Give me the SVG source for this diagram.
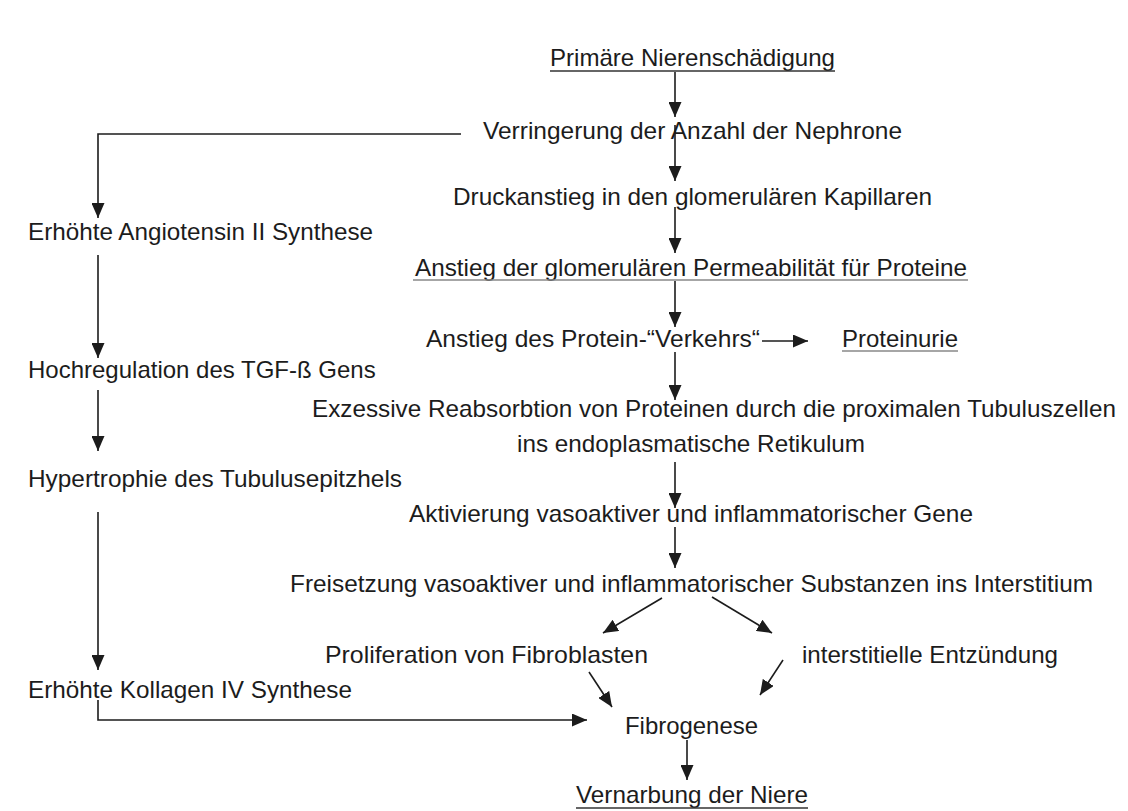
<svg xmlns="http://www.w3.org/2000/svg" width="1128" height="811" viewBox="0 0 1128 811">
<style>
text{font-family:"Liberation Sans",Arial,Helvetica,sans-serif;font-size:24px;fill:#1c1c1c}
.ln{stroke:#1c1c1c;stroke-width:1.6;fill:none}
.ul{stroke:#333;stroke-width:1.3}
.ul2{stroke:#888;stroke-width:1.3}
</style>
<defs>
<marker id="ah" markerUnits="userSpaceOnUse" markerWidth="15" markerHeight="13" viewBox="0 0 15 13" refX="15" refY="6.5" orient="auto">
<path d="M0,0 L15,6.5 L0,13 z" fill="#1c1c1c"/>
</marker>
</defs>
<rect width="1128" height="811" fill="#ffffff"/>

<g id="connectors">
<line class="ln" x1="675" y1="72" x2="675" y2="117" marker-end="url(#ah)"/>
<line class="ln" x1="675" y1="125" x2="675" y2="181" marker-end="url(#ah)"/>
<line class="ln" x1="675" y1="207" x2="675" y2="253" marker-end="url(#ah)"/>
<line class="ln" x1="675" y1="281" x2="675" y2="327" marker-end="url(#ah)"/>
<line class="ln" x1="675" y1="352" x2="675" y2="400" marker-end="url(#ah)"/>
<line class="ln" x1="675" y1="462" x2="675" y2="508" marker-end="url(#ah)"/>
<line class="ln" x1="675" y1="527" x2="675" y2="568" marker-end="url(#ah)"/>
<line class="ln" x1="762" y1="341" x2="808" y2="341" marker-end="url(#ah)"/>
<polyline class="ln" points="461,134 98,134 98,218" marker-end="url(#ah)"/>
<line class="ln" x1="98" y1="255" x2="98" y2="358" marker-end="url(#ah)"/>
<line class="ln" x1="98" y1="390" x2="98" y2="451" marker-end="url(#ah)"/>
<line class="ln" x1="98" y1="512" x2="98" y2="670" marker-end="url(#ah)"/>
<polyline class="ln" points="98,700 98,720 587,720" marker-end="url(#ah)"/>
<line class="ln" x1="662" y1="598" x2="603" y2="633" marker-end="url(#ah)"/>
<line class="ln" x1="712" y1="597" x2="772" y2="633" marker-end="url(#ah)"/>
<line class="ln" x1="589" y1="672" x2="612" y2="707" marker-end="url(#ah)"/>
<line class="ln" x1="783" y1="660" x2="760" y2="695" marker-end="url(#ah)"/>
<line class="ln" x1="687" y1="740" x2="687" y2="780" marker-end="url(#ah)"/>
</g>

<g id="n-primaer"><text x="550" y="66" textLength="285" lengthAdjust="spacingAndGlyphs">Primäre Nierenschädigung</text><line class="ul" x1="550" y1="71" x2="835" y2="71"/></g>
<g id="n-verringerung"><text x="483" y="139" textLength="419" lengthAdjust="spacingAndGlyphs">Verringerung der Anzahl der Nephrone</text></g>
<g id="n-druckanstieg"><text x="453" y="205" textLength="479" lengthAdjust="spacingAndGlyphs">Druckanstieg in den glomerulären Kapillaren</text></g>
<g id="n-permeabilitaet"><text x="415" y="276" textLength="552" lengthAdjust="spacingAndGlyphs">Anstieg der glomerulären Permeabilität für Proteine</text><line class="ul2" x1="413" y1="280" x2="968" y2="280"/></g>
<g id="n-verkehr"><text x="426" y="347" textLength="334" lengthAdjust="spacingAndGlyphs">Anstieg des Protein-“Verkehrs“</text></g>
<g id="n-proteinurie"><text x="842" y="347" textLength="116" lengthAdjust="spacingAndGlyphs">Proteinurie</text><line class="ul2" x1="842" y1="351" x2="958" y2="351"/></g>
<g id="n-exzessive"><text x="312" y="417" textLength="804" lengthAdjust="spacingAndGlyphs">Exzessive Reabsorbtion von Proteinen durch die proximalen Tubuluszellen</text>
<text x="517" y="452" textLength="348" lengthAdjust="spacingAndGlyphs">ins endoplasmatische Retikulum</text></g>
<g id="n-aktivierung"><text x="409" y="522" textLength="564" lengthAdjust="spacingAndGlyphs">Aktivierung vasoaktiver und inflammatorischer Gene</text></g>
<g id="n-freisetzung"><text x="290" y="592" textLength="803" lengthAdjust="spacingAndGlyphs">Freisetzung vasoaktiver und inflammatorischer Substanzen ins Interstitium</text></g>
<g id="n-proliferation"><text x="325" y="663" textLength="323" lengthAdjust="spacingAndGlyphs">Proliferation von Fibroblasten</text></g>
<g id="n-entzuendung"><text x="802" y="663" textLength="256" lengthAdjust="spacingAndGlyphs">interstitielle Entzündung</text></g>
<g id="n-fibrogenese"><text x="625" y="734" textLength="133" lengthAdjust="spacingAndGlyphs">Fibrogenese</text></g>
<g id="n-vernarbung"><text x="576" y="803" textLength="232" lengthAdjust="spacingAndGlyphs">Vernarbung der Niere</text><line class="ul" x1="576" y1="808" x2="808" y2="808"/></g>
<g id="n-angiotensin"><text x="28" y="240" textLength="345" lengthAdjust="spacingAndGlyphs">Erhöhte Angiotensin II Synthese</text></g>
<g id="n-tgf"><text x="28" y="378">Hochregulation des TGF-ß Gens</text></g>
<g id="n-hypertrophie"><text x="28" y="487" textLength="374" lengthAdjust="spacingAndGlyphs">Hypertrophie des Tubulusepitzhels</text></g>
<g id="n-kollagen"><text x="28" y="698" textLength="324" lengthAdjust="spacingAndGlyphs">Erhöhte Kollagen IV Synthese</text></g>
</svg>
